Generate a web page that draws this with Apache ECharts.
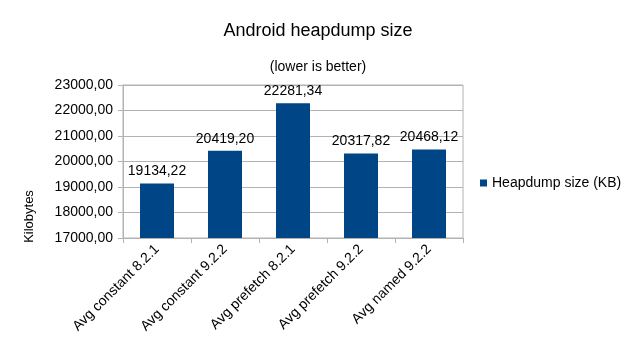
<!DOCTYPE html>
<html>
<head>
<meta charset="utf-8">
<script src="https://cdn.jsdelivr.net/npm/echarts@6/dist/echarts.min.js"></script>
<style>html,body{margin:0;padding:0;background:#fff;}#c{width:636px;height:358px;}</style>
</head>
<body>
<div id="c"></div>
<script>
var categories = ['Avg constant 8.2.1', 'Avg constant 9.2.2', 'Avg prefetch 8.2.1', 'Avg prefetch 9.2.2', 'Avg named 9.2.2'];
var heapdumpSize = [19134.22, 20419.20, 22281.34, 20317.82, 20468.12];
var yMin = 17000, yMax = 23000, yStep = 1000;

function fmt(v) { return v.toFixed(2).replace('.', ','); }

var chart = echarts.init(document.getElementById('c'));
var font = 'Liberation Sans';
chart.setOption({
  backgroundColor: '#fff',
  animation: false,
  title: [
    { text: 'Android heapdump size', left: 'center', top: 17,
      textStyle: { fontFamily: font, fontSize: 18, fontWeight: 'normal', color: '#000' } },
    { text: '(lower is better)', left: 'center', top: 55,
      textStyle: { fontFamily: font, fontSize: 14, fontWeight: 'normal', color: '#000' } }
  ],
  legend: {
    orient: 'vertical', left: 475, top: 171,
    icon: 'rect', itemWidth: 7, itemHeight: 7,
    textStyle: { fontFamily: font, fontSize: 14, color: '#000' },
    data: ['Heapdump size (KB)']
  },
  grid: { left: 123, right: 173, top: 85, bottom: 120, show: true, borderColor: '#b3b3b3', borderWidth: 1 },
  xAxis: {
    type: 'category', data: categories,
    axisLine: { lineStyle: { color: '#b3b3b3' } },
    axisTick: { show: true, length: 5, lineStyle: { color: '#b3b3b3' } },
    axisLabel: { rotate: 45, margin: 9, interval: 0, fontFamily: font, fontSize: 14, color: '#000' }
  },
  yAxis: {
    type: 'value', min: yMin, max: yMax, interval: yStep,
    name: 'Kilobytes', nameLocation: 'middle', nameGap: 87, nameRotate: 90,
    nameTextStyle: { fontFamily: font, fontSize: 13, color: '#000', padding: [0, 110, 0, 0] },
    axisLine: { show: true, lineStyle: { color: '#b3b3b3' } },
    axisTick: { show: true, length: 5, lineStyle: { color: '#b3b3b3' } },
    splitLine: { lineStyle: { color: '#b3b3b3' } },
    axisLabel: { margin: 10, fontFamily: font, fontSize: 14, color: '#000', formatter: fmt }
  },
  series: [{
    name: 'Heapdump size (KB)', type: 'bar', data: heapdumpSize,
    barWidth: '50%',
    itemStyle: { color: '#004586' },
    label: { show: true, position: 'top', distance: 5, fontFamily: font, fontSize: 14, color: '#000',
      formatter: function (p) { return fmt(p.value); } }
  }]
});
</script>
</body>
</html>
